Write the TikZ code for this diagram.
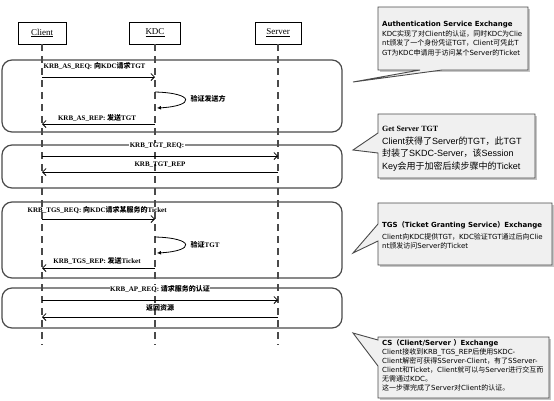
\documentclass[tikz,border=0pt]{standalone}
\usepackage{fontspec}
\setmainfont{Liberation Serif}
\newfontfamily\cjk{Noto Sans CJK SC}
\newfontfamily\verd{DejaVu Sans}
\newfontfamily\arialf{Liberation Sans}
\usetikzlibrary{arrows.meta}
\newcommand\zh[1]{{\cjk #1}}
\definecolor{framec}{HTML}{4A4A4A}
\definecolor{notefill}{HTML}{F0F0F0}
\begin{document}
\begin{tikzpicture}[x=1pt,y=-1pt,
  head/.style={draw=black,line width=0.8pt,fill=white,minimum height=22pt,inner sep=0pt,font=\fontsize{9}{10}\selectfont},
  life/.style={draw=framec,line width=1.1pt,dash pattern=on 7pt off 5pt},
  frm/.style={draw=framec,line width=1.2pt,rounded corners=10pt},
  msg/.style={draw=black,line width=0.8pt,-{Straight Barb[length=3.5pt,width=7pt]}},
  loopar/.style={draw=black,line width=0.8pt,-{Latex[length=4pt,width=4pt]}},
  lbl/.style={font=\fontsize{7}{8}\selectfont\bfseries,inner sep=0.5pt},
  note/.style={draw=framec,line width=0.9pt,fill=notefill},
  shad/.style={fill=gray!45},
  ntxt/.style={anchor=base west,inner sep=0pt,font=\verd\fontsize{7}{8}\selectfont},
  ntxtb/.style={anchor=base west,inner sep=0pt,font=\arialf\fontsize{9}{10}\selectfont},
]
\useasboundingbox (0,0) rectangle (554,400);
\fill[white] (0,0) rectangle (554,400);

% heads
\node[head,minimum width=48pt] (client) at (42,33) {\underline{Client}};
\node[head,minimum width=51pt] (kdc) at (155,33) {\underline{KDC}};
\node[head,minimum width=46pt] (server) at (278,33) {\underline{Server}};
\coordinate (clientend) at (42,345);
\coordinate (kdcend) at (155,345);
\coordinate (serverend) at (278,345);
\draw[life] (client.south) -- (clientend);
\draw[life] (kdc.south) -- (kdcend);
\draw[life] (server.south) -- (serverend);

% frames
\draw[frm] (2,60) rectangle (342,132);
\draw[frm] (2,145) rectangle (342,188);
\draw[frm] (2,202) rectangle (342,278);
\draw[frm] (2,288) rectangle (342,328);

% messages
\coordinate (c1) at (42,77);  \coordinate (k1) at (155,77);
\coordinate (c2) at (42,124); \coordinate (k2) at (155,124);
\coordinate (c3) at (42,156); \coordinate (s3) at (278,156);
\coordinate (c4) at (42,172); \coordinate (s4) at (278,172);
\coordinate (c5) at (42,219); \coordinate (k5) at (155,219);
\coordinate (c6) at (42,268); \coordinate (k6) at (155,268);
\coordinate (c7) at (42,300); \coordinate (s7) at (278,300);
\coordinate (c8) at (42,317); \coordinate (s8) at (278,317);
\coordinate (l1a) at (155,92);  \coordinate (l1b) at (157,108);
\coordinate (l2a) at (155,237); \coordinate (l2b) at (157,253);

\draw[msg] (c1) -- (k1);
\draw[loopar] (l1a) .. controls (195,93) and (195,106) .. (l1b);
\draw[msg] (k2) -- (c2);
\draw[msg] (c3) -- (s3);
\draw[msg] (s4) -- (c4);
\draw[msg] (c5) -- (k5);
\draw[loopar] (l2a) .. controls (195,238) and (195,251) .. (l2b);
\draw[msg] (k6) -- (c6);
\draw[msg] (c7) -- (s7);
\draw[msg] (s8) -- (c8);

% labels
\node[lbl,anchor=west] (t1) at (43,66) {KRB\_AS\_REQ: \zh{向}KDC\zh{请求}TGT};
\node[lbl,anchor=west] (t2) at (190,99) {\zh{验证发送方}};
\node[lbl] (t3) at (97,118) {KRB\_AS\_REP: \zh{发送}TGT};
\node[lbl,fill=white] (t4) at (157,146) {KRB\_TGT\_REQ:};
\node[lbl] (t5) at (160,165) {KRB\_TGT\_REP};
\node[lbl,anchor=west] (t6) at (27,210) {KRB\_TGS\_REQ: \zh{向}KDC\zh{请求某服务的}Ticket};
\node[lbl,anchor=west] (t7) at (190,245) {\zh{验证}TGT};
\node[lbl] (t8) at (97,261) {KRB\_TGS\_REP: \zh{发送}Ticket};
\node[lbl,fill=white] (t9) at (160,289) {KRB\_AP\_REQ: \zh{请求服务的认证}};
\node[lbl] (t10) at (160,308) {\zh{返回资源}};

% note 1
\fill[shad] (380,9) rectangle (530,72);
\draw[note] (378,7) -- (528,7) -- (528,70) -- (442,70) -- (353,82) -- (420,70) -- (378,70) -- cycle;
\node[ntxt] (n1a) at (382,26.5) {\bfseries Authentication Service Exchange};
\node[ntxt] (n1b) at (382,36) {KDC\zh{实现了对}Client\zh{的认证，同时}KDC\zh{为}Clie};
\node[ntxt] (n1c) at (382,45.5) {nt\zh{颁发了一个身份凭证}TGT\zh{，}Client\zh{可凭此}T};
\node[ntxt] (n1d) at (382,55) {GT\zh{为}KDC\zh{申请用于访问某个}Server\zh{的}Ticket};

% note 2
\fill[shad] (380,116) rectangle (537,180);
\draw[note] (378,114) -- (535,114) -- (535,178) -- (378,178) -- (378,153) -- (353,150) -- (378,133) -- cycle;
\node[anchor=base west,inner sep=0pt,font=\fontsize{8}{9}\selectfont\bfseries] (n2a) at (382,131) {Get Server TGT};
\node[ntxtb] (n2b) at (382,144) {Client\zh{获得了}Server\zh{的}TGT\zh{，此}TGT};
\node[ntxtb] (n2c) at (382,156.5) {\zh{封装了}SKDC-Server\zh{，该}Session};
\node[ntxtb] (n2d) at (382,169) {Key\zh{会用于加密后续步骤中的}Ticket};

% note 3
\fill[shad] (380,205) rectangle (554,267);
\draw[note] (378,203) -- (552,203) -- (552,265) -- (378,265) -- (378,241) -- (353,253) -- (378,224) -- cycle;
\node[ntxt] (n3a) at (382,227.5) {\bfseries TGS\zh{（}Ticket Granting Service\zh{）}Exchange};
\node[ntxt] (n3b) at (382,239) {Client\zh{向}KDC\zh{提供}TGT\zh{，}KDC\zh{验证}TGT\zh{通过后向}Clie};
\node[ntxt] (n3c) at (382,248.5) {nt\zh{颁发访问}Server\zh{的}Ticket};

% note 4
\fill[shad] (380,339) rectangle (551,400);
\draw[note] (378,337) -- (549,337) -- (549,398) -- (378,398) -- (378,366) -- (353,333) -- (378,340) -- cycle;
\node[ntxt] (n4a) at (382,345.5) {\bfseries CS\zh{（}Client/Server \zh{）}Exchange};
\node[ntxt] (n4b) at (382,354.5) {Client\zh{接收到}KRB\_TGS\_REP\zh{后使用}SKDC-};
\node[ntxt] (n4c) at (382,363.5) {Client\zh{解密可获得}SServer-Client\zh{，有了}SServer-};
\node[ntxt] (n4d) at (382,372.5) {Client\zh{和}Ticket\zh{，}Client\zh{就可以与}Server\zh{进行交互而}};
\node[ntxt] (n4e) at (382,381.5) {\zh{无需通过}KDC\zh{。}};
\node[ntxt] (n4f) at (382,390.5) {\zh{这一步骤完成了}Server\zh{对}Client\zh{的认证。}};
\end{tikzpicture}
\end{document}
